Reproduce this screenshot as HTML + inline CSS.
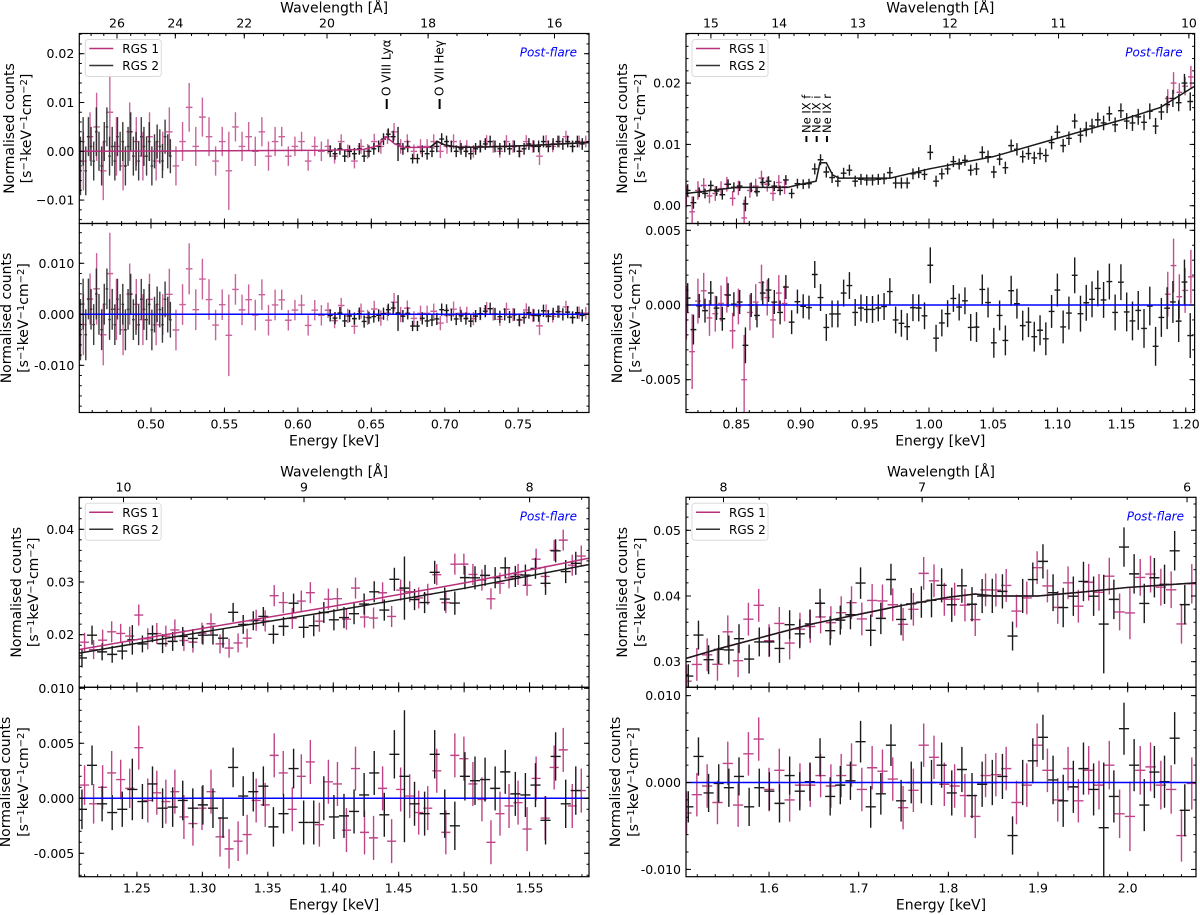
<!DOCTYPE html>
<html><head><meta charset="utf-8"><title>RGS spectra post-flare</title>
<style>
html,body{margin:0;padding:0;background:#fff;}
svg{display:block;font-family:"DejaVu Sans","Liberation Sans",sans-serif;}
</style></head>
<body>
<svg id="fig" xmlns="http://www.w3.org/2000/svg" width="1200" height="915" viewBox="0 0 1200 915"></svg>
<script>
// ===== DATA (values in units of 1e-3 normalised counts) =====
// Top-left panel (0.45-0.80 keV)
const tlModelE=[0.452,0.62,0.645,0.655,0.66,0.666,0.672,0.69,0.695,0.70,0.71,0.73,0.76,0.798];
const tlModelV=[0,0.2,0.4,1.2,3,1.5,0.8,0.8,2,1.3,0.8,0.9,1.2,1.8];
const tlR1Start=0.454, tlR1Width=0.0045;
const tlR1Vals=[-2,3,5,-4,8,1,-3,4,2,-1,3,-2,0,4,-3, 2,9,1,7,3,-2,2,-4,5,1,3,0,4,-1,2,3,-1,1,2,-2,1,0, 1,-1,2,0,-2,1,0,2,1,3,4,1,2,0,1,1,2,0,1,2,1,1,0,1,2,1,0,2,1,0,2,1,-1,2,1,2,3,1,2,2];
const tlR1Errs=[6,5,7,6,8,6,5,6,5,5,5,4,4,5,4, 4,5,4,4,4,3,3,8,3,3,3,3,3,3,3,2,2,2,2,2,2,2, 1.5,1.5,1.5,1.4,1.5,1.5,1.5,1.6,1.5,1.5,1.8,1.5,1.5,1.4,1.5,1.5,1.5,1.4,1.5,1.5,1.3,1.3,1.3,1.3,1.3,1.3,1.3,1.3,1.3,1.3,1.3,1.3,1.8,1.3,1.2,1.2,1.2,1.2,1.2,1.2];
const tlR2aStart=0.452, tlR2aWidth=0.0018;
const tlR2aVals=[-3,2,-4,3,1,-2,4,0,-3,2,5,-1,1,-2,3,0,2,-3,1,4,-1,0,-2,3,1,-1,2,-3,0,2,1,-2,3,0,-1];
const tlR2aErrs=[6,5,5,4,4,4,5,4,4,4,4,4,4,4,4,4,4,4,4,4,4,4,4,4,4,4,4,4,3.5,3.5,3.5,3.5,3.5,3.5,3.5];
const tlR2bStart=0.622, tlR2bWidth=0.0033;
const tlR2bVals=[0,-0.5,0.5,-1,0,-0.5,0.5,-1,0,0.5, 1,2.5,3.5,3,1.5,0.5,1, -1.5,-1.5,0, -0.5,0,1, 2.5,2,1,0, 0.5,0,-0.5,0.5,1,1.5,2,1,0.5,1,0.5,1,0,0.5,1.5,1,1,2,1,1.5,2,1.5,2,1,2,1.5];
const tlR2bErrs=[1.2,1.2,1.2,1.2,1.2,1.2,1.2,1.2,1.2,1.2, 1.2,1.2,1.2,1.2,3.5,1.2,1.2, 1,1,1.2, 1.2,1.2,1.2, 1.2,1.2,1.2,1.2, 1.2,1.2,1.2,1.2,1.2,1.2,1.2,1.2,1.2,1.2,1.2,1.2,1.2,1.2,1.2,1.2,1.2,1.2,1.2,1.2,1.2,1.2,1.2,1.2,1.2,1.2];

// Top-right panel (0.81-1.21 keV)
const trModelE=[0.8107,0.85,0.89,0.90,0.912,0.915,0.92,0.925,0.93,0.97,1.0,1.05,1.10,1.15,1.18,1.207];
const trModelV=[2,3,3,3.5,4,7,7,5,4.5,4.5,6,8,11,14,16,19.5];
const trR1aStart=0.811, trR1aWidth=0.0045;
const trR1aVals=[1.5,-1.0,2.5,3.3,1.6,2.0,2.8,3.5,1.2,2.9,-2.0,2.5,3.2,4.5,3.5,2.0,3.8,3.1];
const trR1aErrs=[1.8,2.5,1.5,1.2,1.2,1.2,1.2,1.2,1.2,1.2,3,1.2,1.2,1.2,1.2,1.2,1.2,1.2];
const trR1bStart=1.186, trR1bWidth=0.0045;
const trR1bVals=[17.5,20,18.5,19.5,21];
const trR1bErrs=[1.5,1.8,1.5,1.5,1.8];
const trR2Start=0.812, trR2Width=0.0045;
const trR2Vals=[2.5,0.5,2.2,2.0,3.3,2.4,1.8,3.5,3.0,3.2, 0.3,3.0,2.3,3.8,4.0,3.2,2.5,4.2,2.0,3.6, 3.5,3.6,6.0,7.5,5.5,4.6,4.0,5.3,5.8,4.0, 4.3,4.2,4.2,4.3,4.4,5.4,3.7,3.7,3.7,5.2, 5.4,5.1,8.7,4.0,5.2,6.0,7.2,6.8,7.4,5.8, 6.0,8.7,8.0,5.5,7.6,6.2,9.8,9.2,8.0,8.5, 7.8,8.5,8.2,10.3,12.0,9.8,11.0,13.8,11.5,12.5, 13.0,14.0,13.5,15.0,13.2,15.5,13.8,13.5,14.5,13.6, 15.4,13.0,15.3,16.5,17.5,16.8,20.0,17.0];
const trR2Errs=[1.0,1.0,0.8,0.8,0.8,0.8,0.8,0.8,0.8,0.8, 1.2,0.8,0.8,0.8,0.8,0.8,0.8,0.8,0.8,0.8, 0.8,0.8,0.9,0.9,0.9,0.9,0.9,0.9,0.9,0.9, 0.9,0.9,0.9,0.9,0.9,0.9,0.9,0.9,0.9,0.9, 0.9,0.9,1.2,0.9,0.9,0.9,0.9,0.9,0.9,0.9, 1.0,1.0,1.0,1.0,1.0,1.0,1.0,1.0,1.0,1.0, 1.0,1.0,1.1,1.1,1.1,1.1,1.1,1.2,1.2,1.2, 1.2,1.2,1.2,1.2,1.2,1.2,1.3,1.3,1.3,1.3, 1.3,1.3,1.3,1.4,1.4,1.4,1.5,1.5];

// Bottom-left panel (1.21-1.60 keV): residuals relative to model
const blModelE=[1.206,1.30,1.40,1.50,1.595];
const blModel1V=[17.2,21.2,25.4,29.8,34.5];
const blModel2V=[16.5,20.5,24.5,28.8,33.3];
const blR1Start=1.210, blR1Width=0.0069;
const blR1Res=[1.2,-0.5,1,2.3,1.7,0.9,4.6,-0.2,0.5,-0.3,0.6,-1.7,-2.3,-0.9,0.6,-3.5,-4.6,-3.9,-3.3,-0.2,-0.6,3.9,2.3,-1,2,3.3,-2.4,1.5,1.3,-2.9,2.7,-3.1,-3.6,0.9,-3.9,0.8,0.2,-1.3,-0.9,2.5,-3.1,3.9,3.6,1.3,-0.1,-4,-1.4,-0.7,-0.4,-2.8,1.8,-1.8,2.8,4.4,-0.7,0.7];
const blR1Errs=[1.8,1.8,2,2,1.8,1.8,2,2,2,2,2,2,2,2,2,1.8,1.8,1.8,1.8,2,2,2,2,2,2,2,2,2,2,2,2,2,2,2,2,2,2,2,2,2,2,2,2,2,2,2,2,2,2,2,2,2,2,2,2,2];
const blR2Start=1.208, blR2Width=0.0077;
const blR2Res=[-1,3,-0.5,-1.3,-1,0.8,-0.3,1.3,-0.9,-0.8,-0.2,-0.9,-0.6,-0.9,-1.8,2.8,0.2,0.6,1.1,-2.6,-1.4,2.7,-2.2,-2.2,0,-1.7,-1.6,-1.2,0.3,2.3,-1.5,4,2,-0.5,-1.4,4,-1.4,-2.5,2,1.6,1.7,0.9,2.4,0.4,0.3,1.2,-2,3.8,-0.5,0.7];
const blR2Errs=[1.8,1.8,1.6,1.6,1.6,2.8,1.6,1.6,1.8,1.8, 1.8,1.8,1.8,1.8,1.8,1.8,1.8,1.8,1.8,1.8, 1.8,1.8,2,2,2,2,2,2,2,2, 2,2.2,6,2,2,2.2,2.2,2.2,2.2,2.2, 2,2,2,2,2,2,2.2,2.2,2.2,2.2];

// Bottom-right panel (1.51-2.08 keV): residuals relative to model
const brModelE=[1.5074,1.55,1.60,1.65,1.70,1.75,1.80,1.83,1.85,1.90,1.95,2.0,2.0762];
const brModelV=[30.5,32.2,34.0,35.8,37.2,38.6,39.8,40.3,40.0,40.0,40.6,41.3,42.0];
const brR1Start=1.508, brR1Width=0.0115;
const brR1Res=[-3.5,-1.4,-0.4,-2.3,2.2,-2.6,3.3,5,-0.8,1.4,-2,-0.3,-0.3,0.8,-0.4,0.8,2,-0.8,1.7,1.3,0.4,-2.9,-0.9,4.3,2.9,-0.2,-0.4,-1.5,-3.9,0.8,0.9,1.6,-2.3,-0.3,4.3,1.4,-2,1.6,-2.1,1.4,-0.3,2,-3.6,-3.9,1.4,1.8,-0.3,-0.8,-6.1,-0.1];
const brR1Errs=[2.5,2.5,2.5,2.5,2.5,2.5,2.5,2.5,2.5,2.5,2.5,2.5,2.5,2.5,2.5,2.5,2.5,2.5,2.5,2.5,2.5,2.5,2.5,2.5,2.5,2.5,2.5,2.5,2.5,2.5,2.5,2.5,2.5,2.5,2.5,2.5,2.5,2.5,2.5,2.8,2.8,2.8,2.8,4,2.8,2.8,2.8,2.8,3,3];
const brR2Start=1.51, brR2Width=0.0113;
const brR2Res=[-2.8,3,-1.2,-0.1,-0.6,0.7,-2.8,-0.6,-1,-2.4,0.8,-1,0.1,2.9,-1.6,-0.3,0.2,4.7,-2.8,-1.3,4.3,-2.1,0,0,0,2,-1.2,1.5,-1.5,-0.2,0,0.7,-6.1,0,2.5,5.2,0.3,-2.1,-0.5,1.6,-0.8,-5.2,-1.6,6.2,2,-2.6,1.2,0.1,5.1,-3.2];
const brR2Errs=[1.8,2.2,2.2,2.2,2.2,2.2,2.2,2.2,2.2,2.2,2.2,2.2,2.2,2.2,2.2,2.2,2.2,2.4,2.4,2.4,2.4,2.4,2.4,2.4,2.6,2.6,2.6,2.6,2.6,2.6,2.6,2.6,2.2,2.6,2.6,2.6,2.8,3,3,3,3,7.5,3,3,3,3,3,3,3,3];

// Tick labels
const tlWlTicks=[26,24,22,20,18,16];
const trWlTicks=[15,14,13,12,11,10];
const blWlTicks=[10,9,8];
const brWlTicks=[8,7,6];
const tlETicks=[0.50,0.55,0.60,0.65,0.70,0.75];
const trETicks=[0.85,0.90,0.95,1.00,1.05,1.10,1.15,1.20];
const blETicks=[1.25,1.30,1.35,1.40,1.45,1.50,1.55];
const brETicks=[1.6,1.7,1.8,1.9,2.0];

// ===== RENDERING =====
const NS='http://www.w3.org/2000/svg';
const svg=document.getElementById('fig');
const C1='#b8307c', C2='#1a1a1a';
const FT=12.5, FA=14;
function mk(tag,attrs,parent){const e=document.createElementNS(NS,tag);for(const k in attrs)e.setAttribute(k,attrs[k]);parent.appendChild(e);return e;}
function interp(xs,ys,x){if(x<=xs[0])return ys[0];for(let i=1;i<xs.length;i++){if(x<=xs[i]){const t=(x-xs[i-1])/(xs[i]-xs[i-1]);return ys[i-1]+t*(ys[i]-ys[i-1]);}}return ys[ys.length-1];}
function fmt(v,d){const s=Math.abs(v).toFixed(d);return (v<-1e-12?'\u2212':'')+s;}

function drawPanel(P){
  const g=mk('g',{},svg);
  
  
  const xE=e=>P.x0+(e-P.eMin)/(P.eMax-P.eMin)*(P.x1-P.x0);
  const yT=v=>P.yTop+(P.tMax-v*1e-3)/(P.tMax-P.tMin)*(P.yMid-P.yTop);
  const yR=v=>P.yMid+(P.rMax-v*1e-3)/(P.rMax-P.rMin)*(P.yBot-P.yMid);
  const xW=l=>P.wlX+P.wlSlope*(1/l-1/P.wlRef);
  const defs=mk('defs',{},g);
  const c1=mk('clipPath',{id:P.id+'ct'},defs); mk('rect',{x:P.x0,y:P.yTop,width:P.x1-P.x0,height:P.yMid-P.yTop},c1);
  const c2=mk('clipPath',{id:P.id+'cr'},defs); mk('rect',{x:P.x0,y:P.yMid,width:P.x1-P.x0,height:P.yBot-P.yMid},c2);
  const gt=mk('g',{'clip-path':'url(#'+P.id+'ct)'},g);
  
  
  const gr=mk('g',{'clip-path':'url(#'+P.id+'cr)'},g);
  
  
  P.series.forEach(S=>{
    const sg=mk('g',{stroke:S.color,'stroke-width':1.4,opacity:S.op},gt);
    
    
    const rg=mk('g',{stroke:S.color,'stroke-width':1.4,opacity:S.op},gr);
    
    
    const n=S.vals?S.vals.length:S.res.length;
    for(let i=0;i<n;i++){
      const e=S.start+i*S.width;
      const m=interp(S.mE,S.mV,e);
      const v=S.vals?S.vals[i]:m+S.res[i];
      const r=v-m;
      const er=S.errs[i]!==undefined?S.errs[i]:S.errs[S.errs.length-1];
      const xa=xE(e-S.width/2), xb=xE(e+S.width/2), xc=xE(e);
      const p=mk('path',{d:'M'+xc+' '+yT(v-er)+'V'+yT(v+er)+'M'+xa+' '+yT(v)+'H'+xb},sg);
      
      
      const q=mk('path',{d:'M'+xc+' '+yR(r-er)+'V'+yR(r+er)+'M'+xa+' '+yR(r)+'H'+xb},rg);
      
      
    }
  });
  const zl=mk('line',{x1:P.x0,x2:P.x1,y1:yR(0),y2:yR(0),stroke:'#0000ff','stroke-width':1.5},gr);
  
  
  P.models.forEach(M=>{
    const pts=M.e.map((e,i)=>xE(e)+','+yT(M.v[i])).join(' ');
    const pl=mk('polyline',{points:pts,fill:'none',stroke:M.color,'stroke-width':1.5},gt);
    
    
  });
  [[P.yTop,P.yMid],[P.yMid,P.yBot]].forEach(([a,b],k)=>{
    const r=mk('rect',{x:P.x0,y:a,width:P.x1-P.x0,height:b-a,fill:'none',stroke:'#000','stroke-width':1.2},g);
    
    
  });
  const tk=mk('g',{stroke:'#000','stroke-width':1},g);
  
  
  const txt=(x,y,s,attrs,name)=>{const t=mk('text',Object.assign({x:x,y:y,'font-size':FT,fill:'#000'},attrs),g);t.textContent=s;return t;};
  const addV=(x,len,ys)=>ys.forEach(([y,dir])=>mk('line',{x1:x,x2:x,y1:y,y2:y+dir*len},tk));
  for(let e=Math.ceil(P.eMin/P.eMinor)*P.eMinor;e<=P.eMax;e+=P.eMinor){
    const x=xE(e); addV(x,2.5,[[P.yBot,-1],[P.yMid,-1],[P.yMid,1]]);
  }
  P.eTicks.forEach(e=>{
    const x=xE(e); addV(x,5,[[P.yBot,-1],[P.yMid,-1],[P.yMid,1]]);
    txt(x,P.yBot+16,P.eDec===1?e.toFixed(1):e.toFixed(2),{'text-anchor':'middle'},'energy-tick-label');
  });
  for(let l=P.wlMinorStart;l>=P.wlMinorEnd-1e-9;l-=P.wlMinor){
    const x=xW(l); if(x<P.x0||x>P.x1)continue; mk('line',{x1:x,x2:x,y1:P.yTop,y2:P.yTop+2.5},tk);
  }
  P.wlTicks.forEach(l=>{
    const x=xW(l); mk('line',{x1:x,x2:x,y1:P.yTop,y2:P.yTop+5},tk);
    txt(x,P.yTop-6,String(l),{'text-anchor':'middle'},'wavelength-tick-label');
  });
  const yTicks=(lo,hi,maj,minr,ys,dec,y0,y1,useMinus)=>{
    for(let v=Math.ceil(lo/minr-1e-6)*minr;v<=hi+1e-9;v+=minr){const y=ys(v*1e3);if(y<y0-0.5||y>y1+0.5)continue;
      mk('line',{x1:P.x0,x2:P.x0+2.5,y1:y,y2:y},tk);mk('line',{x1:P.x1,x2:P.x1-2.5,y1:y,y2:y},tk);}
    for(let v=Math.ceil(lo/maj-1e-6)*maj;v<=hi+1e-9;v+=maj){const y=ys(v*1e3);if(y<y0-0.5||y>y1+0.5)continue;
      mk('line',{x1:P.x0,x2:P.x0+5,y1:y,y2:y},tk);mk('line',{x1:P.x1,x2:P.x1-5,y1:y,y2:y},tk);
      let s=fmt(Math.abs(v)<1e-12?0:v,dec); if(!useMinus)s=s.replace('\u2212','-');
      txt(P.x0-5,y+4.5,s,{'text-anchor':'end'},'y-tick-label');}
  };
  yTicks(P.tMin,P.tMax,P.tMaj,P.tMinr,yT,P.tDec,P.yTop,P.yMid,true);
  yTicks(P.rMin,P.rMax,P.rMaj,P.rMinr,yR,P.rDec,P.yMid,P.yBot,false);
  const cx=(P.x0+P.x1)/2;
  txt(cx,P.yTop-21,'Wavelength [Å]',{'text-anchor':'middle','font-size':FA},'wavelength-axis-title');
  txt(cx,P.yBot+33,'Energy [keV]',{'text-anchor':'middle','font-size':FA},'energy-axis-title');
  [[P.yTop,P.yMid,P.ylT],[P.yMid,P.yBot,P.ylR]].forEach(([a,b,xs],k)=>{
    const cy=(a+b)/2;
    txt(0,0,'Normalised counts',{'text-anchor':'middle','font-size':FA,transform:'translate('+xs[0]+','+cy+') rotate(-90)'},k?'residual-y-axis-title':'y-axis-title');
    const t2=mk('text',{x:0,y:0,'text-anchor':'middle','font-size':FA,transform:'translate('+xs[1]+','+cy+') rotate(-90)'},g);
    
    
    t2.innerHTML='[s<tspan dy="-4" font-size="10">\u22121</tspan><tspan dy="4">keV</tspan><tspan dy="-4" font-size="10">\u22121</tspan><tspan dy="4">cm</tspan><tspan dy="-4" font-size="10">\u22122</tspan><tspan dy="4">]</tspan>';
  });
  const lg=mk('g',{},g);
  
  
  mk('rect',{x:P.x0+6,y:P.yTop+6,width:76,height:37,rx:3,fill:'#fff',stroke:'#d8d8d8','stroke-width':1,opacity:0.9},lg);
  [['RGS 1',C1],['RGS 2','#333']].forEach(([s,c],k)=>{
    const yy=P.yTop+15+k*17;
    const le=mk('line',{x1:P.x0+10,x2:P.x0+34,y1:yy,y2:yy,stroke:c,'stroke-width':1.5},lg);
    
    
    const t=mk('text',{x:P.x0+43,y:yy+4.5,'font-size':12},lg);t.textContent=s;
    
    
  });
  txt(P.x1-12,P.yTop+23,'Post-flare',{'text-anchor':'end',fill:'#0000ff','font-style':'italic','font-size':12},'post-flare-label');
  (P.lines||[]).forEach(L=>{
    const x=xE(L.e);
    txt(0,0,L.label,{'font-size':L.fs||12,transform:'translate('+(x+4)+','+L.y+') rotate(-90)'},'line-label');
    const b=mk('line',{x1:x,x2:x,y1:L.y+3,y2:L.y+L.bar,stroke:'#000','stroke-width':2},g);
    
    
  });
}

const topRow={yTop:33.5,yMid:223.5,yBot:412.5}, botRow={yTop:497.3,yMid:687.3,yBot:876.7};
drawPanel(Object.assign({id:'top-left',x0:79.3,x1:589,eMin:0.4512,eMax:0.7982,eMinor:0.01,eTicks:tlETicks,
  wlX:117,wlRef:26,wlSlope:18200,wlTicks:tlWlTicks,wlMinor:0.5,wlMinorStart:27.5,wlMinorEnd:15.5,
  tMin:-0.0148,tMax:0.02414,tMaj:0.01,tMinr:0.002,tDec:2,rMin:-0.01925,rMax:0.0178,rMaj:0.01,rMinr:0.002,rDec:3,
  ylT:[14,31],ylR:[11,28],
  series:[
    {name:'tl-rgs1',color:C1,op:0.75,start:tlR1Start,width:tlR1Width,vals:tlR1Vals,errs:tlR1Errs,mE:tlModelE,mV:tlModelV},
    {name:'tl-rgs2-low',color:C2,op:0.85,start:tlR2aStart,width:tlR2aWidth,vals:tlR2aVals,errs:tlR2aErrs,mE:tlModelE,mV:tlModelV},
    {name:'tl-rgs2-high',color:C2,op:1,start:tlR2bStart,width:tlR2bWidth,vals:tlR2bVals,errs:tlR2bErrs,mE:tlModelE,mV:tlModelV}],
  models:[{name:'tl-model-rgs1',e:tlModelE,v:tlModelV,color:C1},{name:'tl-model-rgs2',e:tlModelE.slice(7),v:tlModelV.slice(7),color:C2}],
  lines:[{e:0.6605,label:'O VIII Lyα',y:96,bar:13},{e:0.6965,label:'O VII Heγ',y:96,bar:13}]},topRow));
drawPanel(Object.assign({id:'top-right',x0:686,x1:1194.6,eMin:0.8107,eMax:1.2069,eMinor:0.01,eTicks:trETicks,
  wlX:710.9,wlRef:15,wlSlope:14340,wlTicks:trWlTicks,wlMinor:0.2,wlMinorStart:15.4,wlMinorEnd:9.8,
  tMin:-0.0029,tMax:0.02809,tMaj:0.01,tMinr:0.002,tDec:2,rMin:-0.007195,rMax:0.005455,rMaj:0.005,rMinr:0.001,rDec:3,
  ylT:[627,645],ylR:[622,640],
  series:[
    {name:'tr-rgs1-low',color:C1,op:0.85,start:trR1aStart,width:trR1aWidth,vals:trR1aVals,errs:trR1aErrs,mE:trModelE,mV:trModelV},
    {name:'tr-rgs1-high',color:C1,op:0.85,start:trR1bStart,width:trR1bWidth,vals:trR1bVals,errs:trR1bErrs,mE:trModelE,mV:trModelV},
    {name:'tr-rgs2',color:C2,op:1,start:trR2Start,width:trR2Width,vals:trR2Vals,errs:trR2Errs,mE:trModelE,mV:trModelV}],
  models:[{name:'tr-model',e:trModelE,v:trModelV,color:C2}],
  lines:[{e:0.9045,label:'Ne IX f',y:133,bar:9,fs:11.5},{e:0.9125,label:'Ne IX i',y:133,bar:9,fs:11.5},{e:0.9205,label:'Ne IX r',y:133,bar:9,fs:11.5}]},topRow));
drawPanel(Object.assign({id:'bottom-left',x0:79.2,x1:589,eMin:1.2059,eMax:1.5954,eMinor:0.01,eTicks:blETicks,
  wlX:123.5,wlRef:10,wlSlope:16244,wlTicks:blWlTicks,wlMinor:0.2,wlMinorStart:10.4,wlMinorEnd:7.6,
  tMin:0.01002,tMax:0.04607,tMaj:0.01,tMinr:0.002,tDec:2,rMin:-0.00713,rMax:0.01009,rMaj:0.005,rMinr:0.001,rDec:3,
  ylT:[21,38],ylR:[10,28],
  series:[
    {name:'bl-rgs1',color:C1,op:0.9,start:blR1Start,width:blR1Width,res:blR1Res,errs:blR1Errs,mE:blModelE,mV:blModel1V},
    {name:'bl-rgs2',color:C2,op:1,start:blR2Start,width:blR2Width,res:blR2Res,errs:blR2Errs,mE:blModelE,mV:blModel2V}],
  models:[{name:'bl-model-rgs1',e:blModelE,v:blModel1V,color:C1},{name:'bl-model-rgs2',e:blModelE,v:blModel2V,color:C2}]},botRow));
drawPanel(Object.assign({id:'bottom-right',x0:686,x1:1196,eMin:1.5074,eMax:2.0762,eMinor:0.02,eTicks:brETicks,eDec:1,
  wlX:723.5,wlRef:8,wlSlope:11125,wlTicks:brWlTicks,wlMinor:0.2,wlMinorStart:8.4,wlMinorEnd:5.8,
  tMin:0.0261,tMax:0.05502,tMaj:0.01,tMinr:0.002,tDec:2,rMin:-0.01084,rMax:0.01096,rMaj:0.01,rMinr:0.002,rDec:3,
  ylT:[627,645],ylR:[620,638],
  series:[
    {name:'br-rgs1',color:C1,op:0.9,start:brR1Start,width:brR1Width,res:brR1Res,errs:brR1Errs,mE:brModelE,mV:brModelV},
    {name:'br-rgs2',color:C2,op:1,start:brR2Start,width:brR2Width,res:brR2Res,errs:brR2Errs,mE:brModelE,mV:brModelV}],
  models:[{name:'br-model-rgs1',e:brModelE,v:brModelV,color:C1},{name:'br-model-rgs2',e:brModelE,v:brModelV,color:C2}]},botRow));
</script>
</body></html>
